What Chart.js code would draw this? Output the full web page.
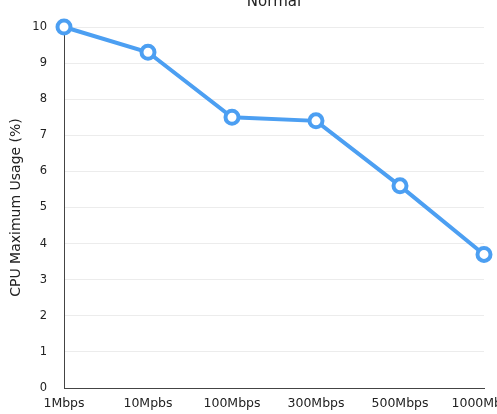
<!DOCTYPE html>
<html>
<head>
<meta charset="utf-8">
<script src="https://cdn.jsdelivr.net/npm/chart.js@4/dist/chart.umd.min.js"></script>
<style>
  html, body { margin: 0; padding: 0; background: #fff; overflow: hidden; }
  #wrap { position: absolute; left: 0; top: -10px; width: 497px; height: 424px; }
</style>
</head>
<body>
<div id="wrap"><canvas id="cpuChart"></canvas></div>
<script>
// Data
const speeds = ['1Mbps', '10Mpbs', '100Mbps', '300Mbps', '500Mbps', '1000Mbps'];
const cpuMax = [10, 9.3, 7.5, 7.4, 5.6, 3.7];
const yTicks = [0, 1, 2, 3, 4, 5, 6, 7, 8, 9, 10];

const blue = 'rgb(76, 159, 242)';
const fontFamily = '"DejaVu Sans", Verdana, sans-serif';

const ctx = document.getElementById('cpuChart').getContext('2d');
new Chart(ctx, {
    type: 'line',
    data: {
        labels: speeds,
        datasets: [{
            label: 'CPU Maximum Usage (%)',
            data: cpuMax,
            borderColor: blue,
            borderWidth: 4,
            pointRadius: 6.5,
            pointBorderWidth: 4,
            pointBackgroundColor: '#fff',
            pointBorderColor: blue,
            tension: 0,
            clip: false
        }]
    },
    options: {
        responsive: true,
        maintainAspectRatio: false,
        animation: false,
        layout: { padding: { left: 0, right: 13, top: 0, bottom: 0 } },
        plugins: {
            legend: { display: false },
            tooltip: { enabled: false },
            title: {
                display: true,
                fullSize: false,
                text: 'Normal',
                color: '#222',
                font: { family: fontFamily, size: 15, weight: 'normal' },
                padding: { top: 3, bottom: 16 }
            }
        },
        scales: {
            x: {
                grid: { display: false, drawTicks: false },
                border: { display: true, color: '#444', width: 1 },
                ticks: { color: '#222', font: { family: fontFamily, size: 12.5 }, padding: 8, maxRotation: 0, autoSkip: false },
                afterFit: function(scale) {
                    scale.height = 26;
                    scale.paddingLeft = 0;
                    scale.paddingRight = 0;
                }
            },
            y: {
                min: 0,
                max: 10,
                afterBuildTicks: function(scale) {
                    scale.ticks = yTicks.map(v => ({ value: v }));
                },
                grid: { color: '#ececec', drawTicks: false },
                border: { display: true, color: '#444', width: 1 },
                ticks: { color: '#222', font: { family: fontFamily, size: 11.5 }, padding: 17 },
                title: {
                    display: true,
                    text: 'CPU Maximum Usage (%)',
                    color: '#222',
                    font: { family: fontFamily, size: 14 },
                    padding: { top: 8, bottom: 0 }
                },
                afterFit: function(scale) {
                    scale.width = 64;
                }
            }
        }
    }
});
</script>
</body>
</html>
